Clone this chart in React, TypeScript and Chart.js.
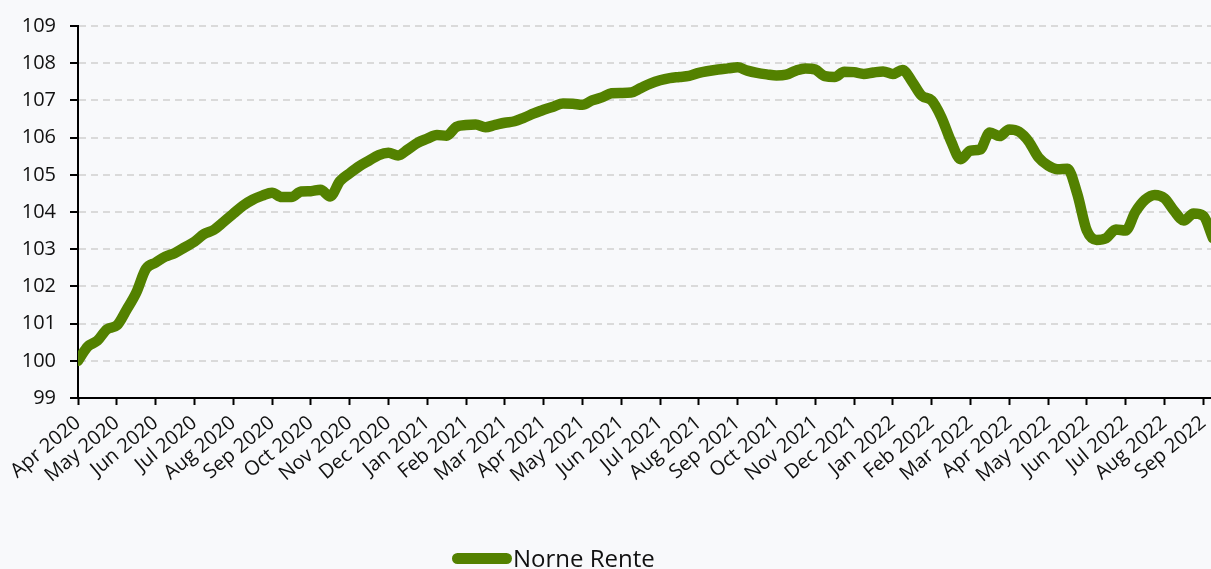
import React, { useEffect, useRef } from 'react';
import { Chart, registerables } from 'chart.js';

Chart.register(...registerables);

const seriesLabel = 'Norne Rente';

const monthLabels = [
  'Apr 2020', 'May 2020', 'Jun 2020', 'Jul 2020', 'Aug 2020', 'Sep 2020',
  'Oct 2020', 'Nov 2020', 'Dec 2020', 'Jan 2021', 'Feb 2021', 'Mar 2021',
  'Apr 2021', 'May 2021', 'Jun 2021', 'Jul 2021', 'Aug 2021', 'Sep 2021',
  'Oct 2021', 'Nov 2021', 'Dec 2021', 'Jan 2022', 'Feb 2022', 'Mar 2022',
  'Apr 2022', 'May 2022', 'Jun 2022', 'Jul 2022', 'Aug 2022', 'Sep 2022',
];

// roughly weekly readings (4 per month) starting Apr 2020
const renteValues = [
  100.0, 100.38, 100.54, 100.85, 100.95, 101.37, 101.83, 102.47, 102.64, 102.8,
  102.9, 103.05, 103.2, 103.41, 103.52, 103.73, 103.95, 104.17, 104.33, 104.44,
  104.52, 104.4, 104.4, 104.55, 104.56, 104.6, 104.42, 104.83, 105.04, 105.23,
  105.38, 105.53, 105.59, 105.52, 105.68, 105.86, 105.97, 106.07, 106.05, 106.29,
  106.34, 106.35, 106.28, 106.34, 106.4, 106.44, 106.54, 106.65, 106.75, 106.83,
  106.92, 106.91, 106.88, 107.0, 107.08, 107.19, 107.2, 107.21, 107.33, 107.45,
  107.54, 107.6, 107.63, 107.66, 107.74, 107.79, 107.83, 107.86, 107.89, 107.8,
  107.74, 107.7, 107.67, 107.69, 107.8, 107.86, 107.83, 107.65, 107.63, 107.77,
  107.76, 107.71, 107.75, 107.78, 107.71, 107.82, 107.5, 107.12, 107.0, 106.55,
  105.9, 105.42, 105.65, 105.68, 106.14, 106.04, 106.22, 106.16, 105.9, 105.47,
  105.25, 105.15, 105.16, 104.5, 103.5, 103.25, 103.3, 103.53, 103.5, 104.0,
  104.33, 104.46, 104.37, 104.03, 103.77, 103.96, 103.9, 103.3,
];

const samplesPerMonth = 4;
const yMin = 99;
const yMax = 109;
const xMax = 29.2;

const GREEN = '#538100';
const FONT = 'Open Sans';

export default function App() {
  const ref = useRef<HTMLCanvasElement>(null);

  useEffect(() => {
    if (!ref.current) return;
    const chart = new Chart(ref.current, {
      type: 'line',
      data: {
        datasets: [
          {
            label: seriesLabel,
            data: renteValues.map((v, i) => ({ x: i / samplesPerMonth, y: v })),
            borderColor: GREEN,
            backgroundColor: GREEN,
            borderWidth: 10.5,
            pointRadius: 0,
            pointHoverRadius: 0,
            cubicInterpolationMode: 'monotone',
            borderJoinStyle: 'round',
            borderCapStyle: 'round',
            fill: false,
          },
        ],
      },
      options: {
        animation: false,
        responsive: true,
        maintainAspectRatio: false,
        layout: { padding: { top: 23, left: 0, right: 0, bottom: 0 } },
        plugins: {
          legend: { display: false },
          tooltip: { enabled: false },
        },
        scales: {
          x: {
            type: 'linear',
            min: 0,
            max: xMax,
            afterFit: (s: any) => {
              s.height = 171;
              s.paddingLeft = 0;
              s.paddingRight = 0;
            },
            grid: {
              drawOnChartArea: false,
              drawTicks: true,
              tickLength: 7,
              tickColor: '#000',
              tickWidth: 2,
              color: '#000',
            },
            border: { color: '#000', width: 2 },
            ticks: {
              stepSize: 1,
              includeBounds: false,
              autoSkip: false,
              maxRotation: 40,
              minRotation: 40,
              padding: 6,
              color: '#111',
              font: { family: FONT, size: 20 },
              callback: (v: any) => (Number.isInteger(v) ? monthLabels[v] ?? '' : ''),
            },
          },
          y: {
            min: yMin,
            max: yMax,
            afterFit: (s: any) => {
              s.width = 78;
            },
            grid: {
              color: (c: any) => (c.tick && c.tick.value === yMin ? 'rgba(0,0,0,0)' : '#dadada'),
              lineWidth: 2,
              tickColor: '#000',
              tickWidth: 2,
              tickLength: 8,
              tickBorderDash: [],
            },
            border: { color: '#000', width: 2, dash: [7, 5] },
            ticks: {
              stepSize: 1,
              padding: 14,
              color: '#111',
              font: { family: FONT, size: 20 },
            },
          },
        },
      },
    });
    return () => chart.destroy();
  }, []);

  return (
    <div
      style={{
        position: 'absolute',
        left: 0,
        top: 0,
        width: 1211,
        height: 569,
        background: '#f8f9fb',
        overflow: 'hidden',
      }}
    >
      <canvas ref={ref} />
      <div
        style={{
          position: 'absolute',
          left: 452,
          top: 542,
          height: 32,
          display: 'flex',
          alignItems: 'center',
          fontFamily: FONT,
          fontSize: 24,
          color: '#111',
        }}
      >
        <span
          style={{
            display: 'inline-block',
            width: 60,
            height: 11,
            borderRadius: 6,
            background: GREEN,
            marginRight: 1,
          }}
        />
        <span style={{ lineHeight: '32px' }}>{seriesLabel}</span>
      </div>
    </div>
  );
}
